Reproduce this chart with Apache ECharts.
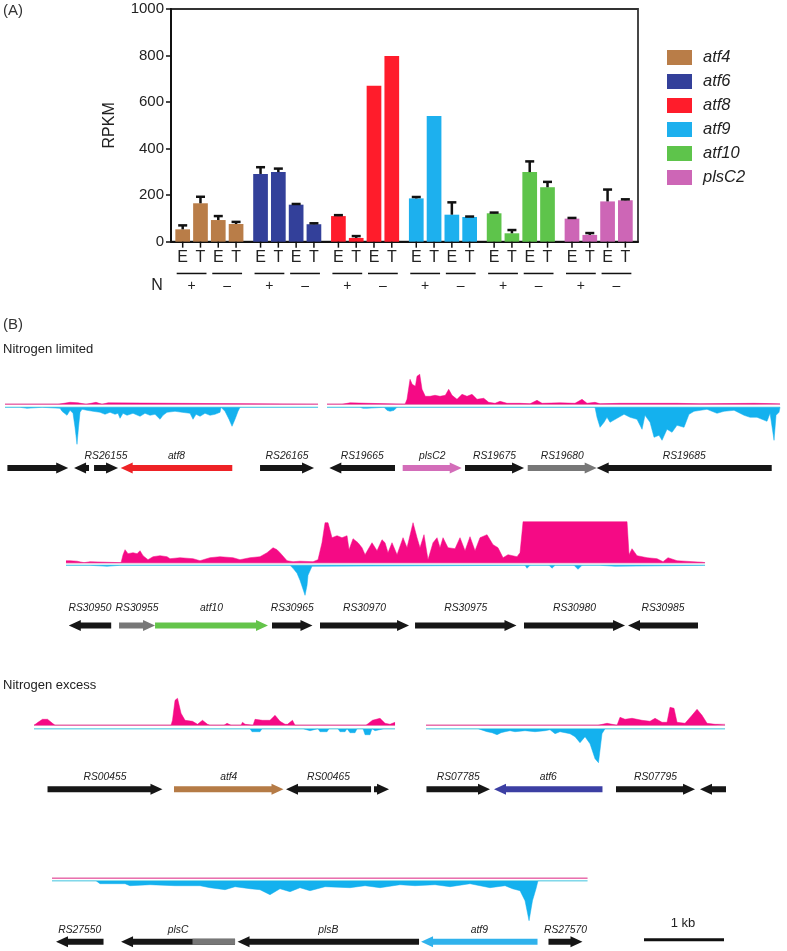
<!DOCTYPE html>
<html><head><meta charset="utf-8">
<script src="https://cdn.jsdelivr.net/npm/echarts/dist/echarts.min.js"></script>
<style>html,body{margin:0;padding:0;background:#fff}#c{width:787px;height:951px}</style>
</head><body><div id="c"></div>
<script>
// ================= Panel A data =================
const genes = ['atf4', 'atf6', 'atf8', 'atf9', 'atf10', 'plsC2'];
const strainLabels = ['E', 'T', 'E', 'T'];
const nitrogenLabels = ['+', '+', '\u2013', '\u2013'];
const rpkm_atf4 = [53, 165, 93, 76];    const sd_atf4 = [17, 28, 17, 9];
const rpkm_atf6 = [291, 299, 159, 75];  const sd_atf6 = [29, 15, 3, 4];
const rpkm_atf8 = [110, 16, 670, 798];  const sd_atf8 = [4, 8, 0, 0];
const rpkm_atf9 = [186, 540, 116, 106]; const sd_atf9 = [6, 0, 53, 2];
const rpkm_atf10 = [122, 36, 299, 234]; const sd_atf10 = [3, 14, 46, 23];
const rpkm_plsC2 = [99, 29, 173, 178];  const sd_plsC2 = [3, 8, 51, 4];
const yTicks = [0, 200, 400, 600, 800, 1000];

// ================= Panel B data (positions in bp, coverage in arbitrary units) =================
// Row 1: Nitrogen limited (atf8 / plsC2 loci)
const row1Segments = [[0, 3913], [4025, 9688]];
const row1Genes = [
  ['', 30, 790, '+'], ['', 863, 1050, '-'], ['RS26155', 1113, 1413, '+'], ['atf8', 1446, 2841, '-'],
  ['RS26165', 3188, 3863, '+'], ['RS19665', 4054, 4875, '-'], ['plsC2', 4971, 5709, '+'],
  ['RS19675', 5750, 6488, '+'], ['RS19680', 6534, 7396, '+'], ['RS19685', 7396, 9584, '-']
];
const row1PinkA = [[0,0],[663,0],[688,1.5],[813,2],[913,1.5],[938,0],[1013,0],[1038,2],[1138,2],[1163,0],[1213,0],[1238,1.5],[1288,1.5],[1313,0],[3913,0]];
const row1PinkB = [[4025,0],[4213,0],[4238,1.5],[4313,1.5],[4338,0],[5000,0],[5025,5],[5063,25],[5090,20],[5109,22],[5130,18],[5150,28],[5184,30],[5213,15],[5254,8],[5313,8],[5375,9],[5438,8],[5463,10],[5504,9],[5546,15],[5588,9],[5650,5],[5713,10],[5775,8],[5838,10],[5900,5],[5984,6],[6046,2],[6125,1],[6188,3],[6275,1],[6438,1],[6563,0.5],[6650,4],[6713,1],[6938,1.5],[7125,1],[7213,5],[7275,1],[7375,2],[7438,0.5],[7688,1],[8400,1],[8688,0.5],[9363,1],[9688,0.5]];
const row1BlueA = [[0,0],[188,0],[213,1],[275,1],[300,0],[463,0],[475,1],[688,1],[713,4],[775,8],[813,3],[850,6],[875,20],[900,37],[919,20],[938,5],[963,2],[1025,3],[1100,4],[1188,5],[1250,7],[1313,5],[1375,7],[1413,6],[1438,11],[1475,6],[1525,8],[1600,6],[1688,9],[1750,6],[1813,8],[1875,7],[1938,12],[1975,8],[2025,5],[2125,4],[2213,5],[2313,6],[2350,12],[2388,7],[2438,9],[2500,6],[2563,8],[2625,7],[2688,5],[2700,0],[2725,0],[2750,4],[2800,12],[2838,19],[2875,12],[2913,4],[2938,0],[3913,0]];
const row1BlueB = [[4025,0],[4438,0],[4475,1],[4525,1],[4550,0],[4738,0],[4775,3],[4813,4],[4863,3],[4900,0],[5913,0],[5938,1],[5963,0],[6913,0],[6938,1],[6963,0],[7275,0],[7300,1],[7325,0],[7375,0],[7400,10],[7438,20],[7488,15],[7525,10],[7563,15],[7650,11],[7738,7],[7813,10],[7900,12],[7963,22],[8000,8],[8063,15],[8113,30],[8175,28],[8213,33],[8275,22],[8338,25],[8400,18],[8488,20],[8550,7],[8613,4],[8775,2],[8900,6],[8988,4],[9113,3],[9238,8],[9313,10],[9400,10],[9525,14],[9563,6],[9613,33],[9638,8],[9675,5],[9688,0]];

// Row 2: Nitrogen limited (atf10 locus)
const row2Segments = [[50, 8038]];
const row2Genes = [
  ['RS30950', 85, 615, '-'], ['RS30955', 713, 1163, '+'], ['atf10', 1163, 2575, '+'], ['RS30965', 2625, 3131, '+'],
  ['RS30970', 3225, 4338, '+'], ['RS30975', 4413, 5681, '+'], ['RS30980', 5775, 7038, '+'], ['RS30985', 7075, 7950, '-']
];
const row2Pink = [[50,2],[100,2],[188,1.5],[213,0],[275,0],[288,1],[350,1],[375,0],[738,0],[763,8],[788,13],[825,9],[888,10],[938,9],[975,12],[1013,7],[1075,3],[1138,6],[1225,7],[1313,6],[1350,4],[1475,5],[1638,4],[1725,2],[1850,5],[1975,6],[2138,5],[2225,3],[2350,5],[2475,6],[2563,10],[2638,15],[2688,13],[2725,10],[2813,2],[2888,1],[2975,1.5],[3138,1],[3200,3],[3250,20],[3288,40],[3325,40],[3375,25],[3438,27],[3500,25],[3563,27],[3588,13],[3638,24],[3700,20],[3750,15],[3788,8],[3875,20],[3938,12],[4000,23],[4038,20],[4075,10],[4125,20],[4188,8],[4263,25],[4313,15],[4388,40],[4438,25],[4475,15],[4525,28],[4575,3],[4638,20],[4688,25],[4725,15],[4763,25],[4825,15],[4913,14],[4975,25],[5038,12],[5100,26],[5163,12],[5225,25],[5313,28],[5388,18],[5450,15],[5513,5],[5575,8],[5688,6],[5725,10],[5750,30],[5763,41],[7063,41],[7088,8],[7125,14],[7188,7],[7313,5],[7438,4],[7513,1],[7575,5],[7688,2],[7888,1],[8000,0.5],[8038,0]];
const row2Blue = [[50,0],[350,0],[375,1],[563,1],[588,0],[725,0],[750,1],[775,0],[2850,0],[2888,3],[2938,8],[2975,15],[3013,24],[3038,30],[3063,20],[3075,10],[3125,1],[3150,0],[5788,0],[5813,3],[5850,0],[6088,0],[6125,3],[6163,0],[6400,0],[6450,4],[6500,0],[6725,0],[6750,1],[6913,1],[6938,0],[8038,0]];

// Row 3: Nitrogen excess (atf4 / atf6 loci)
const row3Segments = [[0, 4513], [4900, 8638]];
const row3Genes = [
  ['RS00455', 169, 1606, '+'], ['atf4', 1750, 3119, '+'], ['RS00465', 3150, 4213, '-'], ['', 4250, 4438, '+'],
  ['RS07785', 4906, 5700, '+'], ['atf6', 5750, 7106, '-'], ['RS07795', 7275, 8263, '+'], ['', 8325, 8650, '-']
];
const row3PinkA = [[0,0],[13,1],[50,3],[106,6],[169,6],[231,2],[263,0],[400,0],[419,2],[438,0],[1713,0],[1731,5],[1763,25],[1794,27],[1838,12],[1888,5],[1981,4],[2044,1],[2106,5],[2169,1],[2200,0],[2375,0],[2388,2],[2413,2],[2425,0],[2463,0],[2481,2],[2500,0],[2588,0],[2606,3],[2638,1],[2663,0],[2738,0],[2763,6],[2856,5],[2950,5],[3013,10],[3075,4],[3138,1],[3169,1],[3231,5],[3263,0],[4150,0],[4169,2],[4231,5],[4325,7],[4388,2],[4450,1],[4513,3]];
const row3BlueA = [[0,0],[2700,0],[2725,3],[2825,3],[2850,0],[3113,0],[3138,2],[3163,0],[3363,0],[3388,2],[3450,2],[3475,0],[3550,0],[3575,3],[3663,3],[3688,0],[3800,0],[3825,3],[3888,3],[3913,0],[3925,0],[3950,4],[4013,4],[4038,0],[4113,0],[4138,6],[4200,6],[4225,0],[4250,0],[4263,2],[4288,0],[4375,0],[4388,2],[4413,0],[4513,0]];
const row3PinkB = [[4900,0],[7050,0],[7075,2],[7163,2],[7188,0],[7288,0],[7325,8],[7388,6],[7475,7],[7600,5],[7700,4],[7763,7],[7850,3],[7913,3],[7950,18],[8000,17],[8038,3],[8138,2],[8225,10],[8288,16],[8350,10],[8413,2],[8513,1],[8638,1]];
const row3BlueB = [[4900,0],[5550,0],[5575,1],[5663,3],[5725,4],[5788,6],[5838,4],[5888,3],[5950,2],[6013,3],[6138,2],[6263,3],[6388,2],[6450,1],[6513,5],[6575,3],[6638,4],[6700,5],[6763,8],[6825,14],[6888,8],[6950,15],[7013,30],[7056,34],[7100,5],[7138,0],[7450,0],[7475,1],[7500,0],[7950,0],[7975,1],[8000,0],[8300,0],[8325,1],[8350,0],[8638,0]];

// Row 4: Nitrogen excess (atf9 locus)
const row4Segments = [[0, 6694]];
const row4Genes = [
  ['RS27550', 50, 644, '-'], ['plsC', 863, 2288, '-'], ['plsB', 2319, 4588, '-'],
  ['atf9', 4613, 6069, '-'], ['RS27570', 6206, 6631, '+']
];
const row4GreyRegion = { name: 'plsC', start: 1756, end: 2288 };
const row4Blue = [[0,0],[275,0],[288,1],[313,0],[550,0],[569,2],[600,3],[913,3],[975,5],[1225,4],[1538,5],[1850,5],[1975,7],[2163,9],[2288,6],[2475,8],[2600,9],[2725,14],[2850,8],[2975,11],[3100,7],[3225,10],[3413,6],[3725,7],[3913,5],[4100,7],[4350,4],[4538,5],[4788,4],[4975,6],[5225,3],[5475,7],[5663,5],[5756,8],[5850,10],[5913,20],[5963,40],[6006,20],[6050,8],[6075,0],[6694,0]];
const row4Pink = [[0,0],[6694,0]];
const scaleBar = { start: 7400, lengthBp: 1000, label: '1 kb' };

// ================= styles / layout =================
const FONT = '"Liberation Sans", Arial, Helvetica, sans-serif';
const barColors = ['#B97D48', '#33409A', '#FF1C2B', '#1DB0EE', '#5EC44B', '#CD66B6'];
const geneColorMap = { atf8: '#EE2226', plsC2: '#D36DB9', atf10: '#64C44A', atf4: '#B57B46', atf6: '#3C3FA3', atf9: '#30B2EC', RS19680: '#777777', RS30955: '#777777' };
const GENE_BLACK = '#161616', GREY = '#777777';
const PINK = '#F50A85', BLUE = '#14B1EE', PINK_LINE = '#E68BBA', CYAN_LINE = '#9FE3EA';
const GROUP_STRIDE = 4.376, X_MIN = -0.657, X_MAX = 25.59, BAR_W = 0.826;
const BP_PER_PX = 12.5;
const BODY = 6, HEAD_H = 11, HEAD_L = 12;

const rpkmAll = [rpkm_atf4, rpkm_atf6, rpkm_atf8, rpkm_atf9, rpkm_atf10, rpkm_plsC2];
const sdAll = [sd_atf4, sd_atf6, sd_atf8, sd_atf9, sd_atf10, sd_plsC2];

const rows = [
  { span: 9688, segs: row1Segments, pink: [row1PinkA, row1PinkB], blue: [row1BlueA, row1BlueB], genes: row1Genes },
  { span: 8038, segs: row2Segments, pink: [row2Pink], blue: [row2Blue], genes: row2Genes },
  { span: 8650, segs: row3Segments, pink: [row3PinkA, row3PinkB], blue: [row3BlueA, row3BlueB], genes: row3Genes },
  { span: 8400, segs: row4Segments, pink: [row4Pink], blue: [row4Blue], genes: row4Genes, grey: row4GreyRegion, scale: scaleBar }
];
const rowLayout = [
  { left: 5, pinkY: 404.3, cyanY: 407.3, geneY: 468, labelGap: 12 },
  { left: 62, pinkY: 562.7, cyanY: 565.3, geneY: 625.5, labelGap: 17 },
  { left: 34, pinkY: 725.3, cyanY: 728.7, geneY: 789.3, labelGap: 12 },
  { left: 52, pinkY: 878.3, cyanY: 880.7, geneY: 942.3, labelGap: 12 }
];

function barRender(gi) {
  return function (params, api) {
    const i = params.dataIndex;
    const x = api.value(0), v = api.value(1), sd = api.value(2);
    const base = api.coord([x, 0]);
    const top = api.coord([x, v]);
    const w = api.size([BAR_W, 0])[0];
    const ch = [];
    ch.push({ type: 'rect', shape: { x: base[0] - w / 2, y: top[1], width: w, height: base[1] - top[1] }, style: { fill: barColors[gi] } });
    if (sd > 0) {
      const et = api.coord([x, v + sd]);
      ch.push({ type: 'line', shape: { x1: base[0], y1: top[1], x2: base[0], y2: et[1] }, style: { stroke: '#111', lineWidth: 2.5 } });
      ch.push({ type: 'line', shape: { x1: base[0] - 4.5, y1: et[1], x2: base[0] + 4.5, y2: et[1] }, style: { stroke: '#111', lineWidth: 2.5 } });
    }
    ch.push({ type: 'line', shape: { x1: base[0], y1: base[1], x2: base[0], y2: base[1] + 6 }, style: { stroke: '#111', lineWidth: 1.5 } });
    ch.push({ type: 'text', x: base[0], y: base[1] + 15.5, style: { text: strainLabels[i], fill: '#222', fontSize: 16, fontFamily: FONT, align: 'center', verticalAlign: 'middle' } });
    if (i % 2 === 1) {
      const prev = api.coord([x - 1, 0]);
      ch.push({ type: 'line', shape: { x1: prev[0] - 6, y1: base[1] + 31.8, x2: base[0] + 6, y2: base[1] + 31.8 }, style: { stroke: '#111', lineWidth: 1.5 } });
      ch.push({ type: 'text', x: (prev[0] + base[0]) / 2, y: base[1] + 44.5, style: { text: nitrogenLabels[i], fill: '#222', fontSize: 14, fontFamily: FONT, align: 'center', verticalAlign: 'middle' } });
    }
    return { type: 'group', children: ch };
  };
}

function arrowPoints(x1, x2, y, strand) {
  const len = x2 - x1, hl = Math.min(HEAD_L, len), bh = BODY / 2, hh = HEAD_H / 2;
  if (strand === '+') return [[x1, y - bh], [x2 - hl, y - bh], [x2 - hl, y - hh], [x2, y], [x2 - hl, y + hh], [x2 - hl, y + bh], [x1, y + bh]];
  return [[x2, y - bh], [x1 + hl, y - bh], [x1 + hl, y - hh], [x1, y], [x1 + hl, y + hh], [x1 + hl, y + bh], [x2, y + bh]];
}

function geneRender(list, labelGap, grey) {
  return function (params, api) {
    const g = list[params.dataIndex];
    const p1 = api.coord([g[1], 0]), p2 = api.coord([g[2], 0]);
    const x1 = p1[0], x2 = p2[0], y = p1[1];
    const ch = [{ type: 'polygon', shape: { points: arrowPoints(x1, x2, y, g[3]) }, style: { fill: geneColorMap[g[0]] || GENE_BLACK } }];
    if (grey && grey.name === g[0]) {
      const e1 = api.coord([grey.start, 0])[0], e2 = api.coord([grey.end, 0])[0];
      ch.push({ type: 'rect', shape: { x: e1, y: y - BODY / 2, width: e2 - e1, height: BODY }, style: { fill: GREY } });
    }
    if (g[0]) ch.push({ type: 'text', x: (x1 + x2) / 2, y: y - labelGap, style: { text: g[0], fill: '#222', fontSize: 10.3, fontStyle: 'italic', fontFamily: FONT, align: 'center', verticalAlign: 'middle' } });
    return { type: 'group', children: ch };
  };
}

const grid = [], xAxis = [], yAxis = [], series = [];
// Panel A
grid.push({ left: 171, top: 9, width: 467, height: 232.67, show: true, borderColor: '#333', borderWidth: 1.8 });
xAxis.push({ type: 'value', gridIndex: 0, min: X_MIN, max: X_MAX, axisLine: { show: true, onZero: false, lineStyle: { color: '#111', width: 2 } }, axisTick: { show: false }, axisLabel: { show: false }, splitLine: { show: false } });
yAxis.push({ type: 'value', gridIndex: 0, min: yTicks[0], max: yTicks[yTicks.length - 1], interval: yTicks[1] - yTicks[0],
  name: 'RPKM', nameLocation: 'middle', nameGap: 53, nameRotate: 90, nameTextStyle: { fontSize: 16, color: '#222', fontFamily: FONT },
  axisLine: { show: true, onZero: false, lineStyle: { color: '#111', width: 2 } }, axisTick: { show: true, length: 5, lineStyle: { color: '#111', width: 1.5 } },
  axisLabel: { fontSize: 15, color: '#222', fontFamily: FONT, margin: 7, formatter: v => String(v) }, splitLine: { show: false } });
genes.forEach((g, gi) => {
  series.push({ type: 'custom', name: g, xAxisIndex: 0, yAxisIndex: 0, clip: false, itemStyle: { color: barColors[gi] },
    renderItem: barRender(gi), data: rpkmAll[gi].map((v, i) => [gi * GROUP_STRIDE + i, v, sdAll[gi][i]]) });
});

// Panel B
rows.forEach((row, r) => {
  const L = rowLayout[r];
  const width = row.span / BP_PER_PX;
  const gP = grid.length; grid.push({ left: L.left, top: L.pinkY - 45, width: width, height: 45 });
  const gB = grid.length; grid.push({ left: L.left, top: L.cyanY, width: width, height: 45 });
  const gG = grid.length; grid.push({ left: L.left, top: L.geneY - 10, width: width, height: 20 });
  [gP, gB, gG].forEach((gi, k) => {
    xAxis.push({ type: 'value', gridIndex: gi, min: 0, max: row.span, show: false });
    yAxis.push({ type: 'value', gridIndex: gi, min: k === 2 ? -1 : 0, max: k === 2 ? 1 : 45, inverse: k === 1, show: false });
  });
  row.segs.forEach(s => {
    series.push({ type: 'line', xAxisIndex: gP, yAxisIndex: gP, data: [[s[0], 0], [s[1], 0]], symbol: 'none', silent: true, clip: false, z: 1, lineStyle: { color: PINK_LINE, width: 1.4 } });
    series.push({ type: 'line', xAxisIndex: gB, yAxisIndex: gB, data: [[s[0], 0], [s[1], 0]], symbol: 'none', silent: true, clip: false, z: 1, lineStyle: { color: CYAN_LINE, width: 1.4 } });
  });
  row.pink.forEach(d => series.push({ type: 'line', xAxisIndex: gP, yAxisIndex: gP, data: d, symbol: 'none', silent: true, z: 2, lineStyle: { color: PINK, width: 0.5 }, areaStyle: { color: PINK, opacity: 1 } }));
  row.blue.forEach(d => series.push({ type: 'line', xAxisIndex: gB, yAxisIndex: gB, data: d, symbol: 'none', silent: true, z: 2, lineStyle: { color: BLUE, width: 0.5 }, areaStyle: { color: BLUE, opacity: 1 } }));
  series.push({ type: 'custom', xAxisIndex: gG, yAxisIndex: gG, clip: false, silent: true, renderItem: geneRender(row.genes, L.labelGap, row.grey), data: row.genes.map(g => [g[1], g[2]]) });
  if (row.scale) {
    series.push({ type: 'line', xAxisIndex: gG, yAxisIndex: gG, symbol: 'none', silent: true, clip: false,
      data: [[row.scale.start, 0.2], [row.scale.start + row.scale.lengthBp, 0.2]], lineStyle: { color: '#111', width: 3 } });
  }
});

const chart = echarts.init(document.getElementById('c'), null, { renderer: 'canvas' });
chart.setOption({
  animation: false,
  backgroundColor: '#fff',
  grid, xAxis, yAxis, series,
  legend: { data: genes, orient: 'vertical', left: 662, top: 44, itemWidth: 25, itemHeight: 15, itemGap: 7, icon: 'rect',
    textStyle: { fontSize: 16.5, fontStyle: 'italic', color: '#222', fontFamily: FONT, padding: [0, 0, 0, 6] } },
  graphic: [
    { type: 'text', x: 3, y: 11, style: { text: '(A)', fontSize: 15, fill: '#333', fontFamily: FONT, verticalAlign: 'middle' } },
    { type: 'text', x: 157, y: 286, style: { text: 'N', fontSize: 16, fill: '#222', fontFamily: FONT, align: 'center', verticalAlign: 'middle' } },
    { type: 'text', x: 3, y: 325, style: { text: '(B)', fontSize: 15, fill: '#333', fontFamily: FONT, verticalAlign: 'middle' } },
    { type: 'text', x: 3, y: 349, style: { text: 'Nitrogen limited', fontSize: 13, fill: '#222', fontFamily: FONT, verticalAlign: 'middle' } },
    { type: 'text', x: 3, y: 685, style: { text: 'Nitrogen excess', fontSize: 13, fill: '#222', fontFamily: FONT, verticalAlign: 'middle' } },
    { type: 'text', x: 683, y: 923, style: { text: scaleBar.label, fontSize: 13, fill: '#222', fontFamily: FONT, align: 'center', verticalAlign: 'middle' } }
  ]
});
</script></body></html>
